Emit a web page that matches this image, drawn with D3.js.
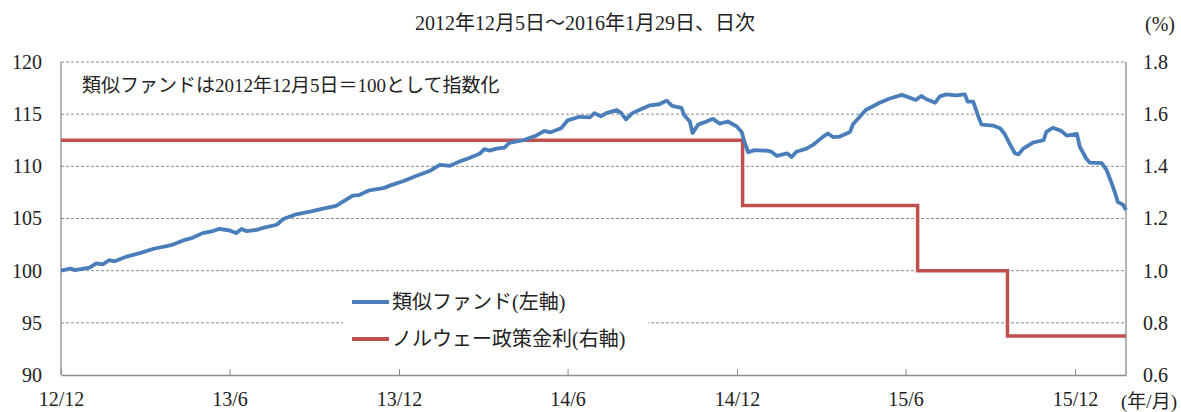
<!DOCTYPE html>
<html>
<head>
<meta charset="utf-8">
<script src="https://cdn.jsdelivr.net/npm/d3@7"></script>
<style>
  body { margin: 0; background: #fff; }
  svg text { font-family: "Liberation Serif", "Noto Sans CJK JP", serif; fill: #222; }
</style>
</head>
<body>
<svg id="chart" width="1181" height="412"></svg>
<script>
// fund index (left axis)
var fundDates = ["2012-12-05","2012-12-15","2012-12-20","2013-01-05","2013-01-12","2013-01-19","2013-01-26","2013-02-01",
  "2013-02-14","2013-03-01","2013-03-15","2013-03-29","2013-04-05","2013-04-16","2013-04-26","2013-05-07","2013-05-18",
  "2013-05-25","2013-06-05","2013-06-12","2013-06-18","2013-06-23","2013-07-04","2013-07-11","2013-07-26","2013-08-02",
  "2013-08-16","2013-08-31","2013-09-14","2013-09-28","2013-10-09","2013-10-16","2013-10-23","2013-11-03","2013-11-18",
  "2013-11-25","2013-12-10","2013-12-24","2014-01-07","2014-01-18","2014-01-29","2014-02-08","2014-02-19","2014-03-02",
  "2014-03-07","2014-03-13","2014-03-20","2014-03-29","2014-04-03","2014-04-18","2014-05-01","2014-05-11","2014-05-17",
  "2014-05-29","2014-06-05","2014-06-18","2014-06-29","2014-07-04","2014-07-11","2014-07-17","2014-07-28","2014-08-02",
  "2014-08-07","2014-08-14","2014-08-25","2014-09-02","2014-09-12","2014-09-20","2014-09-26","2014-10-06","2014-10-09",
  "2014-10-15","2014-10-18","2014-10-24","2014-11-02","2014-11-09","2014-11-16","2014-11-25","2014-12-05","2014-12-10",
  "2014-12-13","2014-12-17","2014-12-24","2015-01-06","2015-01-11","2015-01-17","2015-01-28","2015-02-02","2015-02-07",
  "2015-02-18","2015-02-25","2015-03-08","2015-03-13","2015-03-19","2015-03-26","2015-04-06","2015-04-09","2015-04-23",
  "2015-05-05","2015-05-08","2015-05-19","2015-06-01","2015-06-09","2015-06-16","2015-06-22","2015-06-27","2015-07-07",
  "2015-07-12","2015-07-19","2015-07-30","2015-08-08","2015-08-11","2015-08-17","2015-08-22","2015-08-26","2015-09-08",
  "2015-09-15","2015-09-20","2015-09-26","2015-10-01","2015-10-05","2015-10-10","2015-10-21","2015-11-01","2015-11-04",
  "2015-11-11","2015-11-20","2015-11-26","2015-12-07","2015-12-10","2015-12-17","2015-12-21","2016-01-03","2016-01-08",
  "2016-01-13","2016-01-18","2016-01-20","2016-01-26","2016-01-29"];
var fundValues = [100.0,100.2,100.05,100.3,100.7,100.6,101.0,100.9,
  101.35,101.7,102.1,102.35,102.5,102.9,103.15,103.6,103.8,
  104.0,103.85,103.6,104.0,103.8,103.9,104.1,104.4,104.95,
  105.4,105.65,105.95,106.2,106.8,107.2,107.25,107.7,107.9,
  108.15,108.6,109.1,109.55,110.15,110.05,110.45,110.8,111.2,
  111.65,111.5,111.7,111.8,112.25,112.5,112.9,113.4,113.25,
  113.65,114.4,114.75,114.7,115.1,114.8,115.1,115.4,115.1,
  114.5,115.1,115.55,115.85,115.95,116.3,115.8,115.6,114.9,
  114.3,113.2,114.0,114.3,114.55,114.1,114.3,113.8,113.3,
  112.35,111.35,111.55,111.5,111.4,111.0,111.25,110.9,111.4,
  111.7,112.05,112.85,113.15,112.8,112.85,113.3,114.0,115.4,
  115.95,116.1,116.5,116.85,116.6,116.35,116.75,116.45,116.1,
  116.7,116.9,116.8,116.9,116.2,116.2,114.9,114.0,113.9,
  113.65,113.1,112.05,111.25,111.15,111.7,112.3,112.5,113.3,
  113.7,113.4,112.95,113.1,111.9,110.75,110.35,110.3,109.65,
  108.5,107.25,106.6,106.3,105.8];

// Norwegian policy rate (right axis, %)
var rateDates = ["2012-12-05","2014-12-11","2015-06-18","2015-09-23","2016-01-29"];
var rateValues = [1.5, 1.25, 1.0, 0.75, 0.75];

var leftTicks = [90, 95, 100, 105, 110, 115, 120];
var rightTicks = [0.6, 0.8, 1.0, 1.2, 1.4, 1.6, 1.8];
var xTickDates = ["2012-12-05","2013-06-05","2013-12-05","2014-06-05","2014-12-05","2015-06-05","2015-12-05"];

var parse = d3.timeParse("%Y-%m-%d");
var m = {left: 61, right: 1126, top: 62, bottom: 375};
var svg = d3.select("#chart");

var x = d3.scaleTime()
  .domain([parse("2012-12-05"), parse("2016-01-29")])
  .range([m.left, m.right]);
var yL = d3.scaleLinear().domain([90, 120]).range([m.bottom, m.top]);
var yR = d3.scaleLinear().domain([0.6, 1.8]).range([m.bottom, m.top]);

// gridlines (dashed)
svg.append("g").selectAll("line")
  .data(leftTicks.slice(1))
  .enter().append("line")
  .attr("x1", m.left).attr("x2", m.right)
  .attr("y1", function(d){ return yL(d); })
  .attr("y2", function(d){ return yL(d); })
  .style("stroke", "#8c8c8c")
  .style("stroke-width", 1)
  .style("stroke-dasharray", "3,2");

// axis lines
svg.append("line").attr("x1", m.left).attr("x2", m.left).attr("y1", m.top).attr("y2", m.bottom)
  .style("stroke", "#8c8c8c").style("stroke-width", 1.3);
svg.append("line").attr("x1", m.right).attr("x2", m.right).attr("y1", m.top).attr("y2", m.bottom)
  .style("stroke", "#8c8c8c").style("stroke-width", 1.3);

// x axis
var xAxis = d3.axisBottom(x)
  .tickValues(xTickDates.map(parse))
  .tickFormat(d3.timeFormat("%y/%-m"))
  .tickSizeInner(-6).tickSizeOuter(0).tickPadding(20);
var gx = svg.append("g").attr("transform", "translate(0," + m.bottom + ")").call(xAxis);
gx.select(".domain").style("stroke", "#8c8c8c").style("stroke-width", 1.3);
gx.selectAll(".tick line").style("stroke", "#8c8c8c");
gx.selectAll("text").style("font-size", "20px").attr("dy", "0.71em").attr("y", 17);

// left axis
var gl = svg.append("g").attr("transform", "translate(" + m.left + ",0)")
  .call(d3.axisLeft(yL).tickValues(leftTicks).tickSize(0).tickPadding(19));
gl.select(".domain").remove();
gl.selectAll("text").style("font-size", "20px");

// right axis
var gr = svg.append("g").attr("transform", "translate(" + m.right + ",0)")
  .call(d3.axisRight(yR).tickValues(rightTicks).tickFormat(d3.format(".1f")).tickSize(0).tickPadding(17));
gr.select(".domain").remove();
gr.selectAll("text").style("font-size", "20px");

// policy rate (step)
var rateLine = d3.line()
  .x(function(d){ return x(d.date); })
  .y(function(d){ return yR(d.value); })
  .curve(d3.curveStepAfter);
svg.append("path")
  .datum(rateDates.map(function(d, i){ return {date: parse(d), value: rateValues[i]}; }))
  .attr("d", rateLine)
  .style("fill", "none")
  .style("stroke", "#c0504d")
  .style("stroke-width", 3.5);

// fund index
var fundLine = d3.line()
  .x(function(d){ return x(d.date); })
  .y(function(d){ return yL(d.value); });
svg.append("path")
  .datum(fundDates.map(function(d, i){ return {date: parse(d), value: fundValues[i]}; }))
  .attr("d", fundLine)
  .style("fill", "none")
  .style("stroke", "#4a7ebb")
  .style("stroke-width", 3.8)
  .style("stroke-linejoin", "round");

// legend
var legend = svg.append("g");
legend.append("rect").attr("x", 343).attr("y", 283).attr("width", 305).attr("height", 72).style("fill", "#fff");
var legendItems = [
  {label: "類似ファンド(左軸)", color: "#4a7ebb", y: 302},
  {label: "ノルウェー政策金利(右軸)", color: "#c0504d", y: 339}
];
legendItems.forEach(function(it){
  legend.append("line").attr("x1", 352).attr("x2", 389).attr("y1", it.y).attr("y2", it.y)
    .style("stroke", it.color).style("stroke-width", 4);
  legend.append("text").attr("x", 392).attr("y", it.y).attr("dy", "0.35em")
    .style("font-size", "20px").text(it.label);
});

// texts
svg.append("text").attr("x", 585).attr("y", 30).attr("text-anchor", "middle")
  .style("font-size", "20px").text("2012年12月5日～2016年1月29日、日次");
svg.append("text").attr("x", 82).attr("y", 92)
  .style("font-size", "19px").text("類似ファンドは2012年12月5日＝100として指数化");
svg.append("text").attr("x", 1160).attr("y", 31).attr("text-anchor", "middle")
  .style("font-size", "20px").text("(%)");
svg.append("text").attr("x", 1149).attr("y", 408).attr("text-anchor", "middle")
  .style("font-size", "19px").text("(年/月)");
</script>
</body>
</html>
